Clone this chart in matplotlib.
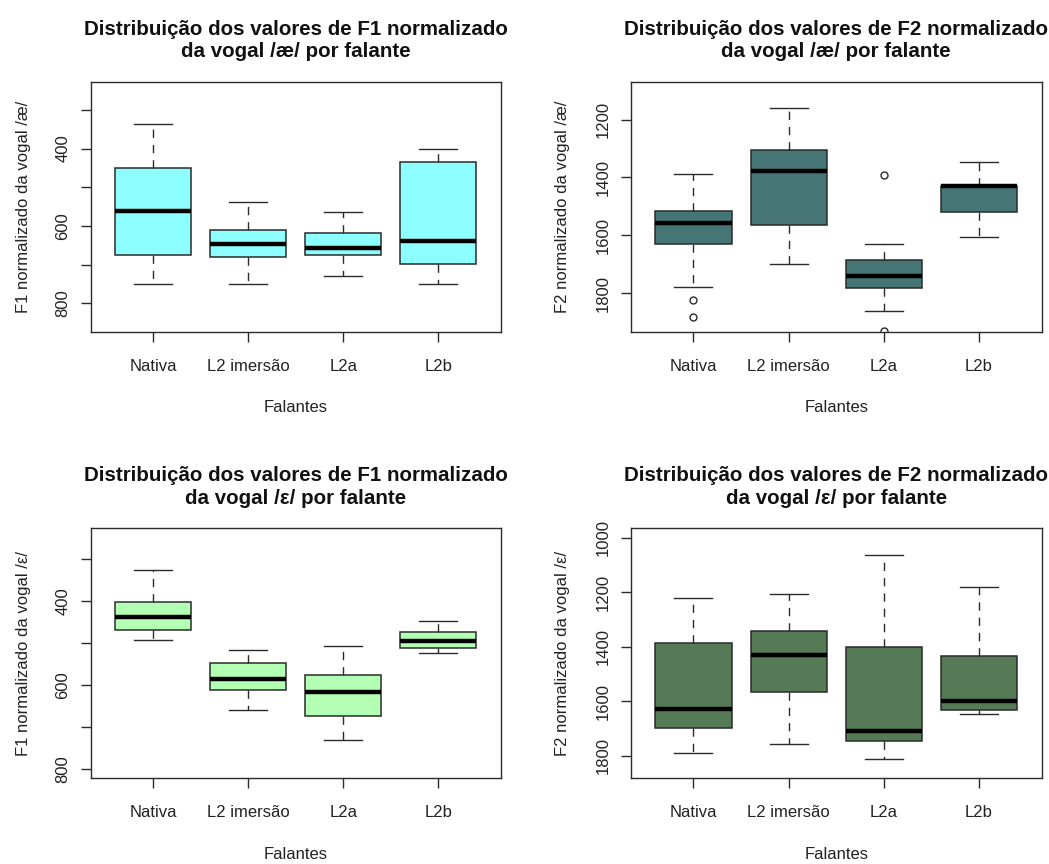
import matplotlib
matplotlib.use("Agg")
from matplotlib import pyplot as plt

plt.rcParams['font.family'] = ['Liberation Sans', 'DejaVu Sans']

grupos = ["Nativa", "L2 imersão", "L2a", "L2b"]

# F1 vogal /æ/
f1_ae_whislo = [337, 538, 565, 400]
f1_ae_q1 = [449, 609, 618, 435]
f1_ae_med = [560, 646, 656, 638]
f1_ae_q3 = [675, 681, 675, 697]
f1_ae_whishi = [751, 751, 729, 751]
f1_ae_fliers = [[], [], [], []]

# F2 vogal /æ/
f2_ae_whislo = [1387, 1160, 1630, 1346]
f2_ae_q1 = [1516, 1305, 1685, 1428]
f2_ae_med = [1556, 1378, 1740, 1431]
f2_ae_q3 = [1630, 1564, 1782, 1521]
f2_ae_whishi = [1779, 1698, 1861, 1605]
f2_ae_fliers = [[1823, 1881], [], [1393, 1929], []]

# F1 vogal /ε/
f1_eh_whislo = [326, 516, 507, 447]
f1_eh_q1 = [403, 547, 576, 474]
f1_eh_med = [438, 586, 617, 495]
f1_eh_q3 = [468, 611, 673, 512]
f1_eh_whishi = [492, 660, 731, 524]
f1_eh_fliers = [[], [], [], []]

# F2 vogal /ε/
f2_eh_whislo = [1220, 1207, 1064, 1180]
f2_eh_q1 = [1386, 1341, 1401, 1435]
f2_eh_med = [1629, 1432, 1708, 1601]
f2_eh_q3 = [1699, 1568, 1747, 1632]
f2_eh_whishi = [1789, 1756, 1813, 1649]
f2_eh_fliers = [[], [], [], []]

fig = plt.figure(figsize=(10.49, 8.64), dpi=100)

linecol = '#2b2b2b'


def painel(rect, whislo, q1, med, q3, whishi, fliers, cor, titulo, ylabel,
           ylim, ticks, labels):
    ax = fig.add_axes(rect)
    stats = []
    for i in range(len(grupos)):
        stats.append(dict(whislo=whislo[i], q1=q1[i], med=med[i], q3=q3[i],
                          whishi=whishi[i], fliers=fliers[i]))
    ax.bxp(stats, positions=[1, 2, 3, 4], widths=0.8, capwidths=0.4,
           patch_artist=True,
           boxprops=dict(facecolor=cor, edgecolor=linecol, linewidth=1.1),
           medianprops=dict(color='black', linewidth=3.2, solid_capstyle='butt'),
           whiskerprops=dict(color=linecol, linewidth=1.0, linestyle=(0, (6, 5))),
           capprops=dict(color=linecol, linewidth=1.0),
           flierprops=dict(marker='o', markersize=5, markerfacecolor='none',
                           markeredgecolor=linecol, markeredgewidth=1.0))
    ax.set_xlim(0.34, 4.66)
    ax.set_ylim(ylim)
    ax.set_xticks([1, 2, 3, 4])
    ax.set_xticklabels(grupos, fontsize=12, color='#222222')
    ax.set_yticks(ticks)
    ax.set_yticklabels(labels, fontsize=12, rotation=90, va='center', color='#222222')
    ax.tick_params(axis='both', length=7.5, width=1.0, color=linecol)
    ax.tick_params(axis='x', pad=12)
    ax.tick_params(axis='y', pad=7)
    for s in ax.spines.values():
        s.set_color(linecol)
        s.set_linewidth(1.0)
    ax.set_title(titulo, fontsize=14.8, fontweight='bold', y=1.131, va='center',
                 linespacing=1.25, color='#111111')
    ax.set_xlabel("Falantes", fontsize=12, color='#222222')
    ax.xaxis.set_label_coords(0.5, -0.305)
    ax.xaxis.label.set_va('center')
    ax.set_ylabel(ylabel, fontsize=12, color='#222222')
    ax.yaxis.set_label_coords(-0.165, 0.5)
    ax.yaxis.label.set_va('center')
    return ax


painel([0.0865, 0.6161, 0.3911, 0.2894], f1_ae_whislo, f1_ae_q1, f1_ae_med,
       f1_ae_q3, f1_ae_whishi, f1_ae_fliers, '#8effff',
       "Distribuição dos valores de F1 normalizado\nda vogal /æ/ por falante",
       "F1 normalizado da vogal /æ/", (873, 227),
       [300, 400, 500, 600, 700, 800], ["", "400", "", "600", "", "800"])

painel([0.6012, 0.6161, 0.3918, 0.2894], f2_ae_whislo, f2_ae_q1, f2_ae_med,
       f2_ae_q3, f2_ae_whishi, f2_ae_fliers, '#457575',
       "Distribuição dos valores de F2 normalizado\nda vogal /æ/ por falante",
       "F2 normalizado da vogal /æ/", (1933, 1069),
       [1200, 1400, 1600, 1800], ["1200", "1400", "1600", "1800"])

painel([0.0865, 0.0992, 0.3911, 0.2894], f1_eh_whislo, f1_eh_q1, f1_eh_med,
       f1_eh_q3, f1_eh_whishi, f1_eh_fliers, '#b3ffb3',
       "Distribuição dos valores de F1 normalizado\nda vogal /ε/ por falante",
       "F1 normalizado da vogal /ε/", (822, 227),
       [300, 400, 500, 600, 700, 800], ["", "400", "", "600", "", "800"])

painel([0.6012, 0.0992, 0.3918, 0.2894], f2_eh_whislo, f2_eh_q1, f2_eh_med,
       f2_eh_q3, f2_eh_whishi, f2_eh_fliers, '#557a55',
       "Distribuição dos valores de F2 normalizado\nda vogal /ε/ por falante",
       "F2 normalizado da vogal /ε/", (1883, 966),
       [1000, 1200, 1400, 1600, 1800], ["1000", "1200", "1400", "1600", "1800"])

fig.savefig("out.png", dpi=100)
